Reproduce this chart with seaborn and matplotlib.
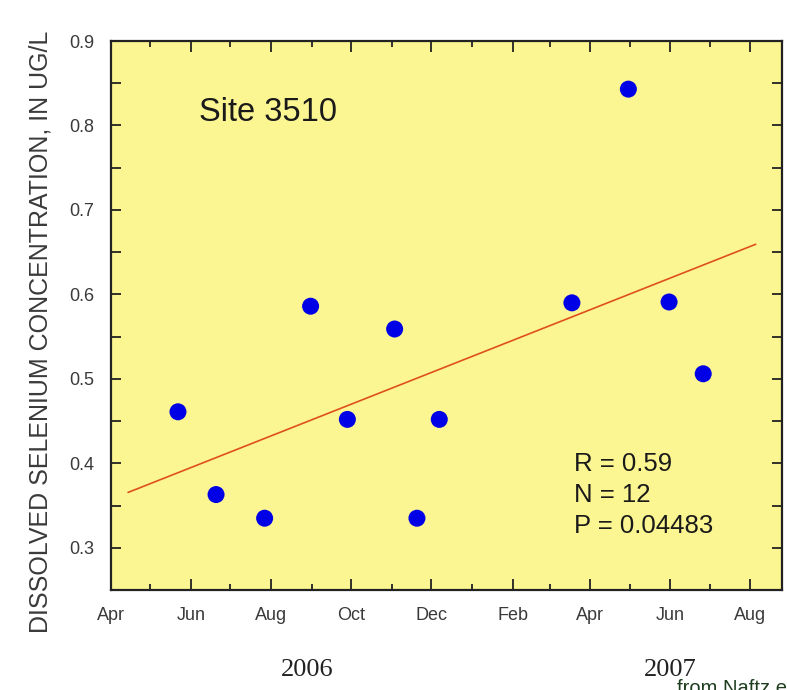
import numpy as np
import pandas as pd
import matplotlib
matplotlib.use("Agg")
import matplotlib.pyplot as plt
import matplotlib.dates as mdates
import seaborn as sns

# Dissolved selenium samples at Site 3510
sample_dates = ["2006-05-22", "2006-06-20", "2006-07-27", "2006-08-31",
                "2006-09-28", "2006-11-03", "2006-11-20", "2006-12-07",
                "2007-03-18", "2007-04-30", "2007-05-31", "2007-06-26"]
selenium = [0.461, 0.363, 0.335, 0.586, 0.452, 0.559,
            0.335, 0.452, 0.590, 0.843, 0.591, 0.506]

site_label = "Site 3510"
stats_lines = ["R = 0.59", "N = 12", "P = 0.04483"]
year_labels = ["2006", "2007"]
y_ticks = [0.3, 0.4, 0.5, 0.6, 0.7, 0.8, 0.9]
y_label = "DISSOLVED SELENIUM CONCENTRATION, IN UG/L"
source_note = "from Naftz et al."

# span over which the trend line is drawn
fit_span = ["2006-04-14", "2007-08-05"]

df = pd.DataFrame({"date": pd.to_datetime(sample_dates), "se": selenium})

sns.set_theme(style="ticks")
plt.rcParams["font.family"] = ["Liberation Sans", "DejaVu Sans"]

fig = plt.figure(figsize=(7.87, 6.90), dpi=100)
ax = fig.add_axes([111 / 787, 1 - 590 / 690, 671 / 787, 549 / 690])
ax.set_facecolor("#fcf692")

# least-squares trend line
xnum = mdates.date2num(df["date"])
slope, intercept = np.polyfit(xnum, df["se"], 1)
span = pd.to_datetime(fit_span)
fit_df = pd.DataFrame({"date": span,
                       "se": slope * mdates.date2num(span) + intercept})
sns.lineplot(data=fit_df, x="date", y="se", ax=ax, color="#e0501c",
             linewidth=1.2, zorder=2)

sns.scatterplot(data=df, x="date", y="se", ax=ax, s=150, color="#0000e6",
                edgecolor="none", zorder=3)

ax.set_xlim(pd.Timestamp("2006-04-01"), pd.Timestamp("2007-08-25"))
ax.set_ylim(0.25, 0.9)
ax.set_xlabel("")
ax.set_ylabel("")

ax.xaxis.set_major_locator(mdates.MonthLocator(bymonth=[2, 4, 6, 8, 10, 12]))
ax.xaxis.set_minor_locator(mdates.MonthLocator(bymonth=[1, 3, 5, 7, 9, 11]))
ax.xaxis.set_major_formatter(mdates.DateFormatter("%b"))
ax.set_yticks(y_ticks)
ax.set_yticklabels([f"{v:.1f}" for v in y_ticks])
ax.yaxis.set_minor_locator(matplotlib.ticker.MultipleLocator(0.05))

ax.tick_params(axis="both", which="both", direction="in", top=True,
               right=True, colors="#222222", width=1.3, labelcolor="#3a3a3a",
               labelsize=13)
ax.tick_params(axis="x", which="major", length=8, pad=12)
ax.tick_params(axis="x", which="minor", length=4)
ax.tick_params(axis="y", which="both", length=7, pad=12)

for sp in ax.spines.values():
    sp.set_color("#222222")
    sp.set_linewidth(1.6)

ax.text(0.131, 0.870, site_label, transform=ax.transAxes, fontsize=23.5,
        color="#1a1a1a", ha="left", va="center")
for i, line in enumerate(stats_lines):
    ax.text(0.690, 0.2295 - i * 0.0565, line, transform=ax.transAxes,
            fontsize=18.5, color="#1a1a1a", ha="left", va="center")

fig.text(41 / 787, 1 - 332 / 690, y_label, rotation=90, fontsize=18,
         color="#3a3a3a", ha="center", va="center")

year_x = [307, 670]
for x, yl in zip(year_x, year_labels):
    fig.text(x / 787, 1 - 670 / 690, yl, fontsize=19, color="#222222",
             family=["Liberation Serif", "DejaVu Serif"], ha="center",
             va="center")

fig.text(677 / 787, -4 / 690, source_note, fontsize=14.5, color="#1e3d1e",
         ha="left", va="baseline")

fig.savefig("out.png", dpi=100)
